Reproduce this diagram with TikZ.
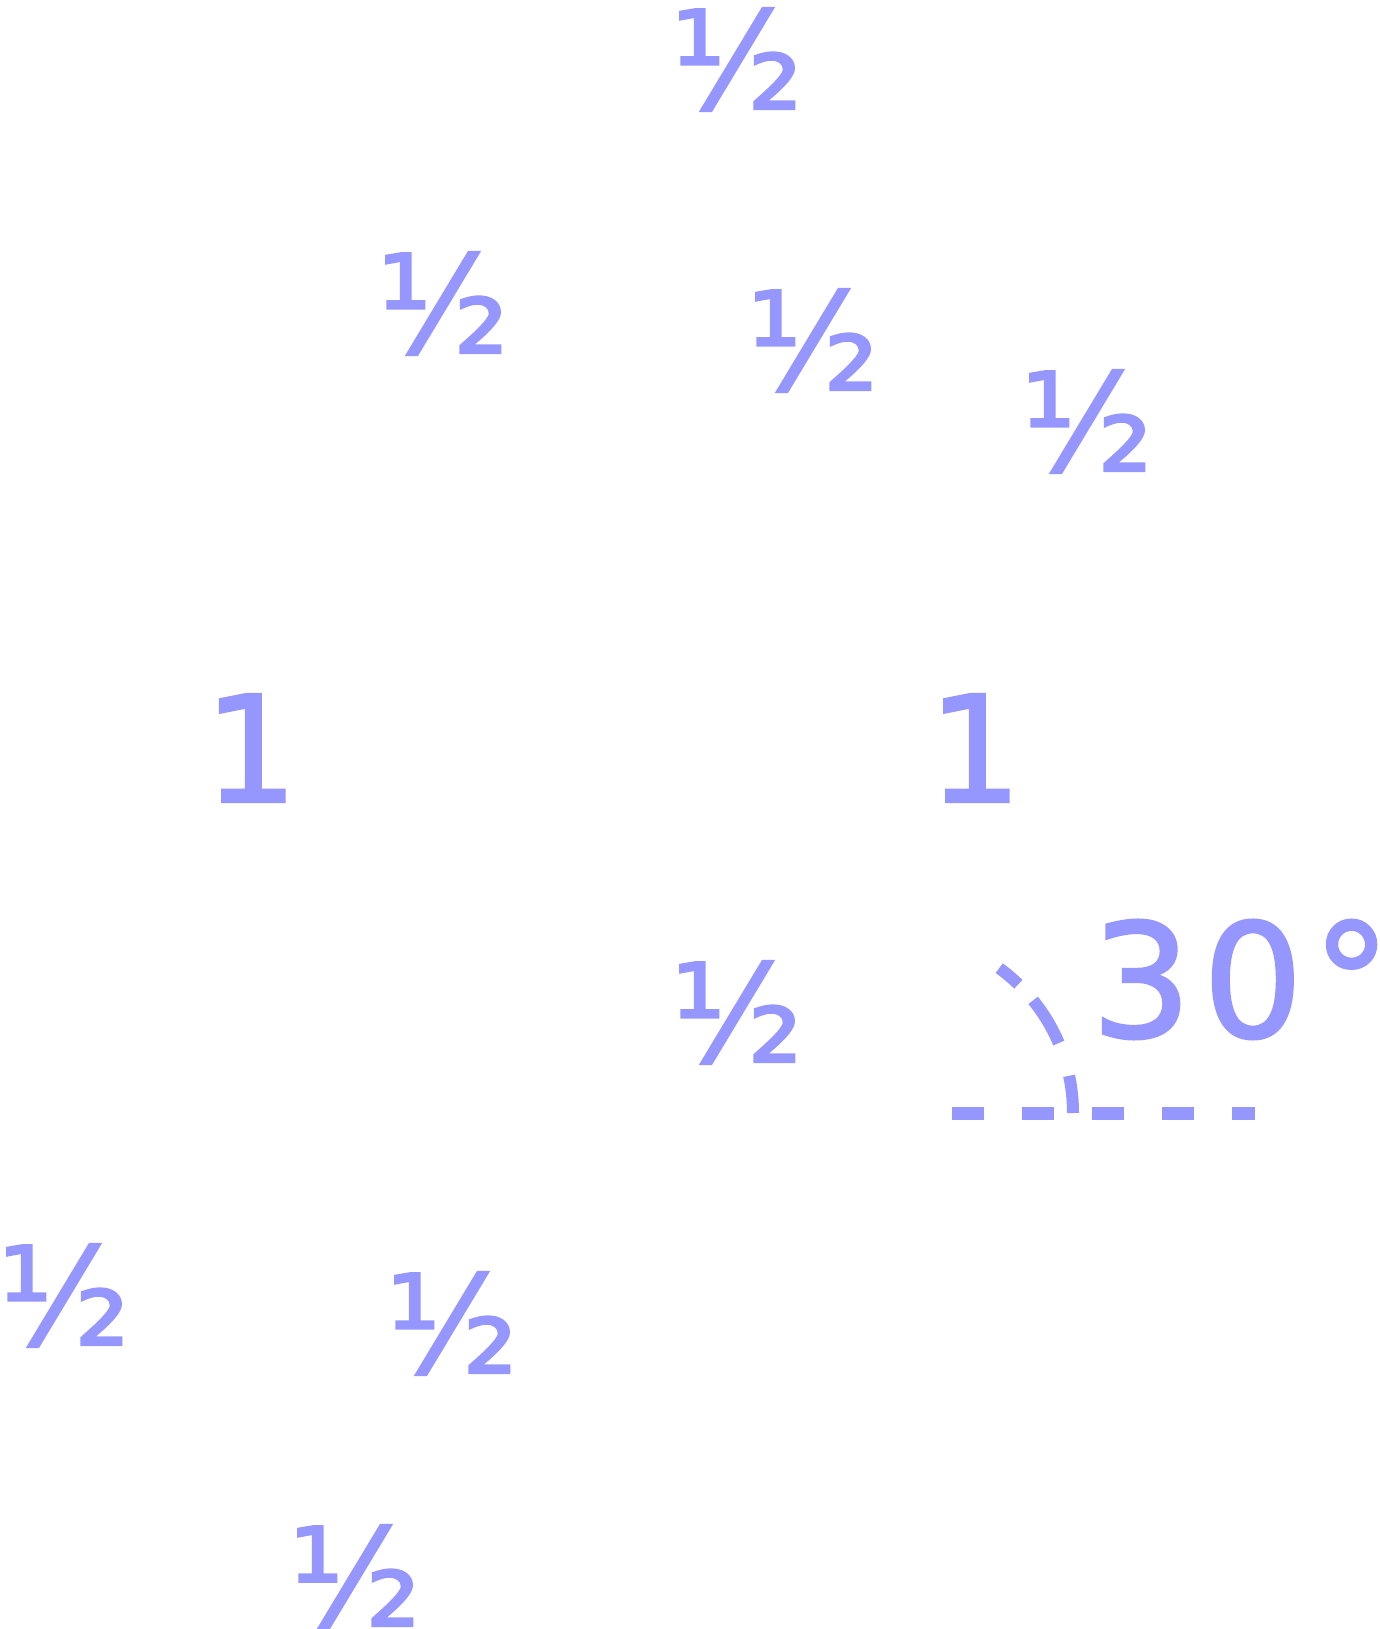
\documentclass[tikz,border=0pt]{standalone}
\usepackage{fontspec}
\newfontfamily\labfont{DejaVu Sans}[FakeBold=1.6]
\definecolor{lbl}{RGB}{150,150,255}
\begin{document}
\begin{tikzpicture}[x=1pt,y=-1pt,
  half/.style={text=lbl,inner sep=0pt,anchor=base,font=\labfont\fontsize{136}{136}\selectfont},
  one/.style={text=lbl,inner sep=0pt,anchor=base,font=\labfont\fontsize{148}{148}\selectfont},
  deg/.style={text=lbl,inner sep=0pt,anchor=base west,font=\labfont\fontsize{158}{158}\selectfont},
  dline/.style={draw=lbl,line width=13pt}]
\useasboundingbox (0,0) rectangle (1379,1629);
\node[half] (h1) at (737,109) {½};
\node[half] (h2) at (443,353) {½};
\node[half] (h3) at (813,390) {½};
\node[half] (h4) at (1087,471) {½};
\node[one] (o1) at (251,802) {1};
\node[one] (o2) at (975,802) {1};
\node[half] (h5) at (737,1062) {½};
\node[half] (h6) at (64,1345) {½};
\node[half] (h7) at (452,1373) {½};
\node[half] (h8) at (355,1626) {½};
\node[deg] (d) at (1091,1037) {3\kern11pt0\kern9pt°};
\coordinate (c) at (894,1113);
\coordinate (e1) at (952,1113);
\coordinate (e2) at (1255,1113);
\draw[dline,dash pattern=on 32pt off 38pt] (e1) -- (e2);
\draw[dline,line width=12pt] ([shift={(0:179)}]c) arc[start angle=0,end angle=-12,radius=179];
\draw[dline,line width=12pt] ([shift={(-23:179)}]c) arc[start angle=-23,end angle=-39,radius=179];
\draw[dline,line width=12pt] ([shift={(-46:179)}]c) arc[start angle=-46,end angle=-54,radius=179];
\end{tikzpicture}
\end{document}
